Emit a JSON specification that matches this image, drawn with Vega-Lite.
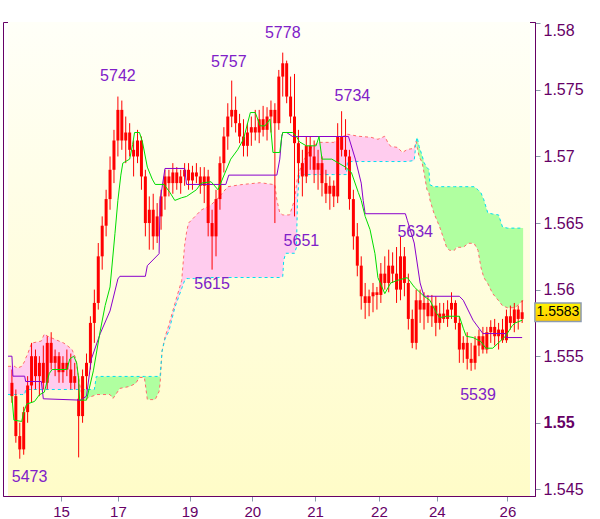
{
"$schema": "https://vega.github.io/schema/vega-lite/v6.json",
"width": 532, "height": 474,
"autosize": {"type": "none"},
"padding": {"left": 3, "top": 22, "right": 65, "bottom": 23},
"config": {"view": {"stroke": "#660066", "strokeWidth": 1}},
"datasets": {
"bars": [
{"i":0,"o":1.5530,"h":1.5540,"l":1.5515,"c":1.5520},
{"i":1,"o":1.5520,"h":1.5525,"l":1.5485,"c":1.5490},
{"i":2,"o":1.5490,"h":1.5500,"l":1.5473,"c":1.5480},
{"i":3,"o":1.5480,"h":1.5512,"l":1.5476,"c":1.5508},
{"i":4,"o":1.5508,"h":1.5535,"l":1.5500,"c":1.5528},
{"i":5,"o":1.5528,"h":1.5560,"l":1.5515,"c":1.5550},
{"i":6,"o":1.5550,"h":1.5555,"l":1.5525,"c":1.5535},
{"i":7,"o":1.5535,"h":1.5550,"l":1.5520,"c":1.5545},
{"i":8,"o":1.5545,"h":1.5558,"l":1.5525,"c":1.5530},
{"i":9,"o":1.5530,"h":1.5565,"l":1.5525,"c":1.5560},
{"i":10,"o":1.5560,"h":1.5568,"l":1.5540,"c":1.5545},
{"i":11,"o":1.5545,"h":1.5555,"l":1.5535,"c":1.5550},
{"i":12,"o":1.5550,"h":1.5553,"l":1.5530,"c":1.5538},
{"i":13,"o":1.5538,"h":1.5550,"l":1.5530,"c":1.5545},
{"i":14,"o":1.5545,"h":1.5555,"l":1.5535,"c":1.5540},
{"i":15,"o":1.5540,"h":1.5552,"l":1.5525,"c":1.5530},
{"i":16,"o":1.5530,"h":1.5545,"l":1.5525,"c":1.5535},
{"i":17,"o":1.5518,"h":1.5535,"l":1.5474,"c":1.5505},
{"i":18,"o":1.5505,"h":1.5540,"l":1.5500,"c":1.5535},
{"i":19,"o":1.5535,"h":1.5552,"l":1.5525,"c":1.5545},
{"i":20,"o":1.5545,"h":1.5580,"l":1.5540,"c":1.5575},
{"i":21,"o":1.5575,"h":1.5600,"l":1.5560,"c":1.5590},
{"i":22,"o":1.5590,"h":1.5635,"l":1.5585,"c":1.5625},
{"i":23,"o":1.5625,"h":1.5655,"l":1.5615,"c":1.5648},
{"i":24,"o":1.5648,"h":1.5675,"l":1.5640,"c":1.5668},
{"i":25,"o":1.5668,"h":1.5700,"l":1.5660,"c":1.5690},
{"i":26,"o":1.5690,"h":1.5720,"l":1.5680,"c":1.5712},
{"i":27,"o":1.5712,"h":1.5745,"l":1.5700,"c":1.5735},
{"i":28,"o":1.5735,"h":1.5742,"l":1.5705,"c":1.5712},
{"i":29,"o":1.5712,"h":1.5730,"l":1.5695,"c":1.5718},
{"i":30,"o":1.5718,"h":1.5725,"l":1.5700,"c":1.5705},
{"i":31,"o":1.5705,"h":1.5712,"l":1.5685,"c":1.5700},
{"i":32,"o":1.5700,"h":1.5720,"l":1.5695,"c":1.5712},
{"i":33,"o":1.5712,"h":1.5715,"l":1.5675,"c":1.5685},
{"i":34,"o":1.5685,"h":1.5690,"l":1.5640,"c":1.5650},
{"i":35,"o":1.5650,"h":1.5670,"l":1.5630,"c":1.5660},
{"i":36,"o":1.5660,"h":1.5672,"l":1.5630,"c":1.5640},
{"i":37,"o":1.5640,"h":1.5665,"l":1.5635,"c":1.5655},
{"i":38,"o":1.5655,"h":1.5675,"l":1.5645,"c":1.5670},
{"i":39,"o":1.5670,"h":1.5690,"l":1.5660,"c":1.5685},
{"i":40,"o":1.5685,"h":1.5690,"l":1.5670,"c":1.5680},
{"i":41,"o":1.5680,"h":1.5695,"l":1.5672,"c":1.5688},
{"i":42,"o":1.5688,"h":1.5692,"l":1.5675,"c":1.5680},
{"i":43,"o":1.5680,"h":1.5690,"l":1.5672,"c":1.5685},
{"i":44,"o":1.5685,"h":1.5695,"l":1.5678,"c":1.5690},
{"i":45,"o":1.5690,"h":1.5695,"l":1.5675,"c":1.5682},
{"i":46,"o":1.5682,"h":1.5693,"l":1.5675,"c":1.5688},
{"i":47,"o":1.5688,"h":1.5695,"l":1.5680,"c":1.5685},
{"i":48,"o":1.5685,"h":1.5692,"l":1.5672,"c":1.5678},
{"i":49,"o":1.5678,"h":1.5692,"l":1.5665,"c":1.5685},
{"i":50,"o":1.5685,"h":1.5690,"l":1.5640,"c":1.5650},
{"i":51,"o":1.5650,"h":1.5660,"l":1.5615,"c":1.5640},
{"i":52,"o":1.5640,"h":1.5675,"l":1.5625,"c":1.5668},
{"i":53,"o":1.5668,"h":1.5700,"l":1.5660,"c":1.5695},
{"i":54,"o":1.5695,"h":1.5722,"l":1.5688,"c":1.5715},
{"i":55,"o":1.5715,"h":1.5740,"l":1.5705,"c":1.5730},
{"i":56,"o":1.5730,"h":1.5757,"l":1.5722,"c":1.5735},
{"i":57,"o":1.5735,"h":1.5745,"l":1.5718,"c":1.5725},
{"i":58,"o":1.5725,"h":1.5732,"l":1.5710,"c":1.5715},
{"i":59,"o":1.5715,"h":1.5728,"l":1.5700,"c":1.5708},
{"i":60,"o":1.5708,"h":1.5725,"l":1.5700,"c":1.5718},
{"i":61,"o":1.5718,"h":1.5730,"l":1.5708,"c":1.5722},
{"i":62,"o":1.5722,"h":1.5735,"l":1.5712,"c":1.5718},
{"i":63,"o":1.5718,"h":1.5735,"l":1.5710,"c":1.5728},
{"i":64,"o":1.5728,"h":1.5738,"l":1.5715,"c":1.5720},
{"i":65,"o":1.5720,"h":1.5737,"l":1.5712,"c":1.5730},
{"i":66,"o":1.5730,"h":1.5742,"l":1.5718,"c":1.5735},
{"i":67,"o":1.5735,"h":1.5740,"l":1.5650,"c":1.5725},
{"i":68,"o":1.5725,"h":1.5765,"l":1.5720,"c":1.5760},
{"i":69,"o":1.5760,"h":1.5778,"l":1.5745,"c":1.5770},
{"i":70,"o":1.5770,"h":1.5772,"l":1.5740,"c":1.5745},
{"i":71,"o":1.5745,"h":1.5760,"l":1.5725,"c":1.5730},
{"i":72,"o":1.5730,"h":1.5762,"l":1.5655,"c":1.5710},
{"i":73,"o":1.5710,"h":1.5720,"l":1.5680,"c":1.5695},
{"i":74,"o":1.5695,"h":1.5705,"l":1.5670,"c":1.5685},
{"i":75,"o":1.5685,"h":1.5715,"l":1.5680,"c":1.5708},
{"i":76,"o":1.5708,"h":1.5715,"l":1.5690,"c":1.5700},
{"i":77,"o":1.5700,"h":1.5712,"l":1.5680,"c":1.5690},
{"i":78,"o":1.5690,"h":1.5705,"l":1.5675,"c":1.5695},
{"i":79,"o":1.5695,"h":1.5700,"l":1.5670,"c":1.5680},
{"i":80,"o":1.5680,"h":1.5690,"l":1.5665,"c":1.5672},
{"i":81,"o":1.5672,"h":1.5685,"l":1.5660,"c":1.5678},
{"i":82,"o":1.5678,"h":1.5682,"l":1.5662,"c":1.5670},
{"i":83,"o":1.5670,"h":1.5725,"l":1.5665,"c":1.5715},
{"i":84,"o":1.5715,"h":1.5734,"l":1.5700,"c":1.5705},
{"i":85,"o":1.5705,"h":1.5728,"l":1.5690,"c":1.5700},
{"i":86,"o":1.5700,"h":1.5705,"l":1.5660,"c":1.5668},
{"i":87,"o":1.5668,"h":1.5675,"l":1.5630,"c":1.5640},
{"i":88,"o":1.5640,"h":1.5650,"l":1.5610,"c":1.5618},
{"i":89,"o":1.5618,"h":1.5625,"l":1.5585,"c":1.5595},
{"i":90,"o":1.5595,"h":1.5605,"l":1.5578,"c":1.5590},
{"i":91,"o":1.5590,"h":1.5600,"l":1.5580,"c":1.5595},
{"i":92,"o":1.5595,"h":1.5605,"l":1.5583,"c":1.5598},
{"i":93,"o":1.5598,"h":1.5602,"l":1.5585,"c":1.5596},
{"i":94,"o":1.5596,"h":1.5620,"l":1.5590,"c":1.5612},
{"i":95,"o":1.5612,"h":1.5625,"l":1.5600,"c":1.5605},
{"i":96,"o":1.5605,"h":1.5630,"l":1.5598,"c":1.5618},
{"i":97,"o":1.5618,"h":1.5628,"l":1.5605,"c":1.5612},
{"i":98,"o":1.5612,"h":1.5632,"l":1.5590,"c":1.5600},
{"i":99,"o":1.5600,"h":1.5640,"l":1.5592,"c":1.5625},
{"i":100,"o":1.5625,"h":1.5632,"l":1.5595,"c":1.5605},
{"i":101,"o":1.5605,"h":1.5612,"l":1.5570,"c":1.5578},
{"i":102,"o":1.5578,"h":1.5585,"l":1.5556,"c":1.5560},
{"i":103,"o":1.5560,"h":1.5600,"l":1.5555,"c":1.5592},
{"i":104,"o":1.5592,"h":1.5600,"l":1.5575,"c":1.5585},
{"i":105,"o":1.5585,"h":1.5598,"l":1.5570,"c":1.5590},
{"i":106,"o":1.5590,"h":1.5596,"l":1.5575,"c":1.5580},
{"i":107,"o":1.5580,"h":1.5596,"l":1.5572,"c":1.5588},
{"i":108,"o":1.5588,"h":1.5595,"l":1.5565,"c":1.5575},
{"i":109,"o":1.5575,"h":1.5590,"l":1.5570,"c":1.5582},
{"i":110,"o":1.5582,"h":1.5590,"l":1.5575,"c":1.5578},
{"i":111,"o":1.5578,"h":1.5592,"l":1.5572,"c":1.5585},
{"i":112,"o":1.5585,"h":1.5598,"l":1.5578,"c":1.5590},
{"i":113,"o":1.5590,"h":1.5592,"l":1.5570,"c":1.5575},
{"i":114,"o":1.5575,"h":1.5580,"l":1.5545,"c":1.5555},
{"i":115,"o":1.5555,"h":1.5565,"l":1.5545,"c":1.5560},
{"i":116,"o":1.5560,"h":1.5568,"l":1.5540,"c":1.5548},
{"i":117,"o":1.5548,"h":1.5560,"l":1.5539,"c":1.5545},
{"i":118,"o":1.5545,"h":1.5565,"l":1.5540,"c":1.5558},
{"i":119,"o":1.5558,"h":1.5570,"l":1.5550,"c":1.5565},
{"i":120,"o":1.5565,"h":1.5572,"l":1.5552,"c":1.5555},
{"i":121,"o":1.5555,"h":1.5572,"l":1.5552,"c":1.5568},
{"i":122,"o":1.5568,"h":1.5577,"l":1.5560,"c":1.5572},
{"i":123,"o":1.5572,"h":1.5578,"l":1.5558,"c":1.5565},
{"i":124,"o":1.5565,"h":1.5575,"l":1.5555,"c":1.5570},
{"i":125,"o":1.5570,"h":1.5578,"l":1.5560,"c":1.5562},
{"i":126,"o":1.5562,"h":1.5585,"l":1.5560,"c":1.5580},
{"i":127,"o":1.5580,"h":1.5588,"l":1.5570,"c":1.5575},
{"i":128,"o":1.5575,"h":1.5590,"l":1.5568,"c":1.5585},
{"i":129,"o":1.5585,"h":1.5588,"l":1.5570,"c":1.5578},
{"i":130,"o":1.5578,"h":1.5592,"l":1.5575,"c":1.5583}
],
"ten": [
{"i":0,"v":1.5520},{"i":0.5,"v":1.5502},{"i":2.5,"v":1.5501},{"i":3,"v":1.5508},{"i":3.75,"v":1.5514},{"i":5.75,"v":1.5516},{"i":7,"v":1.5521},{"i":8.25,"v":1.5523},{"i":9.5,"v":1.5537},{"i":10.25,"v":1.5540},{"i":14,"v":1.5540},{"i":14.75,"v":1.5548},{"i":15.75,"v":1.5550},{"i":16.5,"v":1.5545},{"i":17,"v":1.5533},{"i":17.25,"v":1.5517},{"i":19,"v":1.5517},{"i":20.75,"v":1.5539},{"i":22.5,"v":1.5569},{"i":23.75,"v":1.5588},{"i":25,"v":1.5602},{"i":25.75,"v":1.5626},{"i":26.25,"v":1.5642},{"i":27,"v":1.5667},{"i":27.75,"v":1.5686},{"i":28.25,"v":1.5695},{"i":30,"v":1.5698},{"i":30.75,"v":1.5709},{"i":31.25,"v":1.5718},{"i":32.5,"v":1.5718},{"i":33.25,"v":1.5711},{"i":34.5,"v":1.5692},{"i":35.75,"v":1.5683},{"i":36.5,"v":1.5679},{"i":38.75,"v":1.5679},{"i":40.25,"v":1.5673},{"i":41.5,"v":1.5667},{"i":43.25,"v":1.5669},{"i":44.5,"v":1.5670},{"i":47,"v":1.5675},{"i":48.25,"v":1.5680},{"i":50.75,"v":1.5681},{"i":52.5,"v":1.5675},{"i":55.75,"v":1.5698},{"i":57.5,"v":1.5705},{"i":59,"v":1.5713},{"i":60.75,"v":1.5733},{"i":62,"v":1.5733},{"i":63.25,"v":1.5723},{"i":64.5,"v":1.5723},{"i":65.75,"v":1.5728},{"i":66.5,"v":1.5703},{"i":68.25,"v":1.5703},{"i":68.75,"v":1.5715},{"i":69,"v":1.5718},{"i":71.5,"v":1.5718},{"i":72.5,"v":1.5715},{"i":73.25,"v":1.5711},{"i":75,"v":1.5708},{"i":77.5,"v":1.5708},{"i":78.25,"v":1.5715},{"i":79,"v":1.5698},{"i":81.5,"v":1.5698},{"i":83.25,"v":1.5695},{"i":85,"v":1.5692},{"i":86.5,"v":1.5688},{"i":88.25,"v":1.5673},{"i":89,"v":1.5667},{"i":90,"v":1.5655},{"i":91.25,"v":1.5645},{"i":92.5,"v":1.5627},{"i":93.25,"v":1.5609},{"i":95,"v":1.5597},{"i":96.5,"v":1.5605},{"i":98.25,"v":1.5607},{"i":100.75,"v":1.5609},{"i":102.5,"v":1.5602},{"i":105,"v":1.5595},{"i":106.5,"v":1.5592},{"i":108.25,"v":1.5582},{"i":109,"v":1.5579},{"i":110.75,"v":1.5580},{"i":114,"v":1.5580},{"i":115,"v":1.5571},{"i":115.75,"v":1.5565},{"i":117.5,"v":1.5564},{"i":119.5,"v":1.5561},{"i":120.75,"v":1.5556},{"i":122.5,"v":1.5556},{"i":125.75,"v":1.5565},{"i":127.5,"v":1.5573},{"i":128.25,"v":1.5575},{"i":130,"v":1.5577}
],
"kij": [
{"i":-1,"v":1.5550},{"i":0,"v":1.5550},{"i":0.25,"v":1.5535},{"i":3.25,"v":1.5535},{"i":3.5,"v":1.5531},{"i":7.5,"v":1.5531},{"i":8,"v":1.5518},{"i":17.5,"v":1.5517},{"i":19,"v":1.5520},{"i":20.25,"v":1.5548},{"i":22.5,"v":1.5567},{"i":25,"v":1.5584},{"i":27,"v":1.5608},{"i":27.5,"v":1.5610},{"i":34,"v":1.5610},{"i":34.5,"v":1.5618},{"i":37.5,"v":1.5627},{"i":37.75,"v":1.5667},{"i":39,"v":1.5691},{"i":44,"v":1.5691},{"i":44.5,"v":1.5679},{"i":54.5,"v":1.5679},{"i":55.25,"v":1.5686},{"i":67.5,"v":1.5686},{"i":68.25,"v":1.5698},{"i":68.75,"v":1.5715},{"i":69,"v":1.5718},{"i":70,"v":1.5718},{"i":71.5,"v":1.5715},{"i":85.75,"v":1.5715},{"i":87.5,"v":1.5698},{"i":89,"v":1.5680},{"i":89.5,"v":1.5667},{"i":90,"v":1.5657},{"i":100.25,"v":1.5657},{"i":100.75,"v":1.5652},{"i":102.5,"v":1.5635},{"i":104,"v":1.5605},{"i":105,"v":1.5595},{"i":114,"v":1.5595},{"i":115,"v":1.5592},{"i":117.5,"v":1.5577},{"i":120,"v":1.5567},{"i":125.75,"v":1.5567},{"i":126,"v":1.5564},{"i":130,"v":1.5564}
],
"cloud": [
{"i":-1,"a":1.55424,"b":1.55212,"seg":"p1","kind":"pink"},
{"i":0.75,"a":1.55424,"b":1.55212,"seg":"p1","kind":"pink"},
{"i":1.25,"a":1.55409,"b":1.55212,"seg":"p1","kind":"pink"},
{"i":2.5,"a":1.55424,"b":1.55212,"seg":"p1","kind":"pink"},
{"i":3.25,"a":1.55462,"b":1.55212,"seg":"p1","kind":"pink"},
{"i":3.5,"a":1.55485,"b":1.5525,"seg":"p1","kind":"pink"},
{"i":4,"a":1.55515,"b":1.5525,"seg":"p1","kind":"pink"},
{"i":5,"a":1.55598,"b":1.5525,"seg":"p1","kind":"pink"},
{"i":7.5,"a":1.55614,"b":1.5525,"seg":"p1","kind":"pink"},
{"i":8.25,"a":1.55667,"b":1.5525,"seg":"p1","kind":"pink"},
{"i":9,"a":1.55652,"b":1.5525,"seg":"p1","kind":"pink"},
{"i":10.75,"a":1.55629,"b":1.5525,"seg":"p1","kind":"pink"},
{"i":13.25,"a":1.55598,"b":1.5525,"seg":"p1","kind":"pink"},
{"i":15.25,"a":1.55553,"b":1.5525,"seg":"p1","kind":"pink"},
{"i":16.25,"a":1.55485,"b":1.5525,"seg":"p1","kind":"pink"},
{"i":17,"a":1.55333,"b":1.5525,"seg":"p1","kind":"pink"},
{"i":17.5,"a":1.5525,"b":1.5525,"seg":"p1","kind":"pink"},
{"i":17.5,"a":1.5525,"b":1.5525,"seg":"g1","kind":"green"},
{"i":18.25,"a":1.55174,"b":1.5525,"seg":"g1","kind":"green"},
{"i":20.25,"a":1.55197,"b":1.5525,"seg":"g1","kind":"green"},
{"i":21,"a":1.55205,"b":1.5525,"seg":"g1","kind":"green"},
{"i":21.5,"a":1.55212,"b":1.55348,"seg":"g1","kind":"green"},
{"i":25,"a":1.55212,"b":1.55348,"seg":"g1","kind":"green"},
{"i":25.75,"a":1.55182,"b":1.55348,"seg":"g1","kind":"green"},
{"i":27.5,"a":1.55258,"b":1.55348,"seg":"g1","kind":"green"},
{"i":30,"a":1.55273,"b":1.55348,"seg":"g1","kind":"green"},
{"i":31.5,"a":1.55295,"b":1.55348,"seg":"g1","kind":"green"},
{"i":32.5,"a":1.5534,"b":1.55348,"seg":"g1","kind":"green"},
{"i":33.75,"a":1.5534,"b":1.55348,"seg":"g1","kind":"green"},
{"i":34,"a":1.55288,"b":1.55348,"seg":"g1","kind":"green"},
{"i":34.5,"a":1.55174,"b":1.55348,"seg":"g1","kind":"green"},
{"i":36.5,"a":1.55174,"b":1.55348,"seg":"g1","kind":"green"},
{"i":37.5,"a":1.55235,"b":1.55348,"seg":"g1","kind":"green"},
{"i":37.75,"a":1.55295,"b":1.55348,"seg":"g1","kind":"green"},
{"i":38.25,"a":1.55538,"b":1.55538,"seg":"g1","kind":"green"},
{"i":38.25,"a":1.55538,"b":1.55538,"seg":"p2","kind":"pink"},
{"i":39,"a":1.55644,"b":1.55629,"seg":"p2","kind":"pink"},
{"i":40,"a":1.55735,"b":1.55689,"seg":"p2","kind":"pink"},
{"i":41.5,"a":1.55894,"b":1.55864,"seg":"p2","kind":"pink"},
{"i":43.25,"a":1.56068,"b":1.56008,"seg":"p2","kind":"pink"},
{"i":44,"a":1.56333,"b":1.56068,"seg":"p2","kind":"pink"},
{"i":44.5,"a":1.56432,"b":1.56083,"seg":"p2","kind":"pink"},
{"i":45,"a":1.565,"b":1.56083,"seg":"p2","kind":"pink"},
{"i":46.5,"a":1.56545,"b":1.56083,"seg":"p2","kind":"pink"},
{"i":48.25,"a":1.56598,"b":1.56083,"seg":"p2","kind":"pink"},
{"i":50.75,"a":1.56636,"b":1.56091,"seg":"p2","kind":"pink"},
{"i":53.25,"a":1.56712,"b":1.56091,"seg":"p2","kind":"pink"},
{"i":55,"a":1.56773,"b":1.56091,"seg":"p2","kind":"pink"},
{"i":58.25,"a":1.56788,"b":1.56091,"seg":"p2","kind":"pink"},
{"i":63.25,"a":1.56803,"b":1.56091,"seg":"p2","kind":"pink"},
{"i":67,"a":1.56788,"b":1.56091,"seg":"p2","kind":"pink"},
{"i":67.5,"a":1.56674,"b":1.56091,"seg":"p2","kind":"pink"},
{"i":68.25,"a":1.56576,"b":1.56091,"seg":"p2","kind":"pink"},
{"i":69,"a":1.56561,"b":1.56098,"seg":"p2","kind":"pink"},
{"i":69.25,"a":1.56561,"b":1.5622,"seg":"p2","kind":"pink"},
{"i":69.75,"a":1.56561,"b":1.56273,"seg":"p2","kind":"pink"},
{"i":70.75,"a":1.56561,"b":1.56273,"seg":"p2","kind":"pink"},
{"i":72,"a":1.56674,"b":1.56273,"seg":"p2","kind":"pink"},
{"i":72.5,"a":1.56788,"b":1.56318,"seg":"p2","kind":"pink"},
{"i":72.75,"a":1.56841,"b":1.56674,"seg":"p2","kind":"pink"},
{"i":73.25,"a":1.56886,"b":1.56864,"seg":"p2","kind":"pink"},
{"i":74,"a":1.56955,"b":1.56864,"seg":"p2","kind":"pink"},
{"i":76.5,"a":1.57076,"b":1.56864,"seg":"p2","kind":"pink"},
{"i":78.25,"a":1.57106,"b":1.56864,"seg":"p2","kind":"pink"},
{"i":82,"a":1.57106,"b":1.56864,"seg":"p2","kind":"pink"},
{"i":83.25,"a":1.57129,"b":1.56864,"seg":"p2","kind":"pink"},
{"i":85.25,"a":1.57167,"b":1.56864,"seg":"p2","kind":"pink"},
{"i":85.5,"a":1.57167,"b":1.56962,"seg":"p2","kind":"pink"},
{"i":88.25,"a":1.57152,"b":1.56962,"seg":"p2","kind":"pink"},
{"i":91.5,"a":1.57144,"b":1.56962,"seg":"p2","kind":"pink"},
{"i":93.25,"a":1.57129,"b":1.56962,"seg":"p2","kind":"pink"},
{"i":95,"a":1.57152,"b":1.56962,"seg":"p2","kind":"pink"},
{"i":95.75,"a":1.57106,"b":1.56962,"seg":"p2","kind":"pink"},
{"i":96.5,"a":1.57076,"b":1.56962,"seg":"p2","kind":"pink"},
{"i":98.25,"a":1.57068,"b":1.56962,"seg":"p2","kind":"pink"},
{"i":99.5,"a":1.5703,"b":1.56962,"seg":"p2","kind":"pink"},
{"i":100.75,"a":1.57053,"b":1.56962,"seg":"p2","kind":"pink"},
{"i":102.5,"a":1.57061,"b":1.5697,"seg":"p2","kind":"pink"},
{"i":103,"a":1.57114,"b":1.57114,"seg":"p2","kind":"pink"},
{"i":103,"a":1.57114,"b":1.57114,"seg":"g2","kind":"green"},
{"i":103.25,"a":1.57068,"b":1.57144,"seg":"g2","kind":"green"},
{"i":103.75,"a":1.57,"b":1.57076,"seg":"g2","kind":"green"},
{"i":104.5,"a":1.56955,"b":1.57008,"seg":"g2","kind":"green"},
{"i":105,"a":1.56879,"b":1.56955,"seg":"g2","kind":"green"},
{"i":105.75,"a":1.5675,"b":1.56917,"seg":"g2","kind":"green"},
{"i":106.25,"a":1.56727,"b":1.56902,"seg":"g2","kind":"green"},
{"i":106.5,"a":1.56674,"b":1.56788,"seg":"g2","kind":"green"},
{"i":107.5,"a":1.56576,"b":1.56773,"seg":"g2","kind":"green"},
{"i":109,"a":1.5647,"b":1.56773,"seg":"g2","kind":"green"},
{"i":110.75,"a":1.56318,"b":1.56773,"seg":"g2","kind":"green"},
{"i":111.5,"a":1.56295,"b":1.56773,"seg":"g2","kind":"green"},
{"i":112.75,"a":1.56295,"b":1.56773,"seg":"g2","kind":"green"},
{"i":113.25,"a":1.56318,"b":1.56773,"seg":"g2","kind":"green"},
{"i":115,"a":1.56318,"b":1.56773,"seg":"g2","kind":"green"},
{"i":116.25,"a":1.56348,"b":1.56773,"seg":"g2","kind":"green"},
{"i":117.75,"a":1.56348,"b":1.56773,"seg":"g2","kind":"green"},
{"i":118.75,"a":1.56295,"b":1.5675,"seg":"g2","kind":"green"},
{"i":119.5,"a":1.56167,"b":1.56727,"seg":"g2","kind":"green"},
{"i":120.25,"a":1.5609,"b":1.56674,"seg":"g2","kind":"green"},
{"i":121.25,"a":1.56045,"b":1.56576,"seg":"g2","kind":"green"},
{"i":122.5,"a":1.5597,"b":1.56568,"seg":"g2","kind":"green"},
{"i":124,"a":1.55917,"b":1.56561,"seg":"g2","kind":"green"},
{"i":125,"a":1.55879,"b":1.5647,"seg":"g2","kind":"green"},
{"i":126.25,"a":1.55864,"b":1.56462,"seg":"g2","kind":"green"},
{"i":128.25,"a":1.55864,"b":1.56462,"seg":"g2","kind":"green"},
{"i":129.5,"a":1.55902,"b":1.56462,"seg":"g2","kind":"green"},
{"i":130.25,"a":1.55917,"b":1.56462,"seg":"g2","kind":"green"}
],
"labels": [
{"i":27,"v":1.57606,"t":"5742"},
{"i":55.25,"v":1.57712,"t":"5757"},
{"i":69,"v":1.57924,"t":"5778"},
{"i":86.75,"v":1.57455,"t":"5734"},
{"i":73.75,"v":1.56364,"t":"5651"},
{"i":51,"v":1.56045,"t":"5615"},
{"i":102.75,"v":1.56432,"t":"5634"},
{"i":118.75,"v":1.55212,"t":"5539"},
{"i":4.5,"v":1.54591,"t":"5473"}
],
"tag": [{"x1":133.25,"x2":145,"y1":1.5590,"y2":1.5576,"xm":139.1,"v":1.5583,"t":"1.5583"}]
},
"layer": [
{"data": {"values": [{"x1": -1, "x2": 132, "y1": 1.5445, "y2": 1.5801}]},
 "mark": {"type": "rect", "fill": {"gradient": "linear", "x1": 0, "y1": 0, "x2": 0, "y2": 1, "stops": [{"offset": 0, "color": "#FFFFF8"}, {"offset": 1, "color": "#FFFCC8"}]}},
 "encoding": {"x": {"field": "x1", "type": "quantitative", "title": null, "scale": {"domain": [-1, 132], "nice": false, "zero": false},
   "axis": {"title": null, "values": [12.5, 27, 45.25, 61.25, 77.25, 93.5, 108.25, 126.25],
    "labelExpr": "datum.value < 20 ? '15' : datum.value < 35 ? '17' : datum.value < 50 ? '19' : datum.value < 70 ? '20' : datum.value < 85 ? '21' : datum.value < 100 ? '22' : datum.value < 115 ? '24' : '26'",
    "grid": false, "tickColor": "#8899AA", "tickSize": 5, "labelColor": "#660066", "labelFont": "Liberation Sans", "labelFontSize": 15, "domainColor": "#660066", "labelPadding": 3}},
  "x2": {"field": "x2"},
  "y": {"field": "y1", "type": "quantitative", "title": null, "scale": {"domain": [1.5445, 1.5801], "nice": false, "zero": false},
   "axis": {"orient": "right", "title": null, "values": [1.545, 1.55, 1.555, 1.56, 1.565, 1.57, 1.575, 1.58], "format": ".3~f", "grid": false,
    "tickColor": "#8899AA", "tickSize": 5, "labelColor": "#660066", "labelFont": "Liberation Sans", "labelFontSize": 16, "labelPadding": 3, "domainColor": "#660066",
    "labelFontWeight": {"condition": {"test": "abs(datum.value - 1.55) < 0.0001", "value": "bold"}, "value": "normal"},
    "labelOffset": {"condition": {"test": "datum.value > 1.5799", "value": 7}, "value": 0}}},
  "y2": {"field": "y2"}}},
{"data": {"name": "cloud"},
 "mark": {"type": "area", "interpolate": "linear"},
 "encoding": {
  "x": {"field": "i", "type": "quantitative", "title": null},
  "y": {"field": "a", "type": "quantitative", "title": null, "stack": null},
  "y2": {"field": "b"},
  "detail": {"field": "seg"},
  "color": {"field": "kind", "type": "nominal", "scale": {"domain": ["pink", "green"], "range": ["#FFCCEE", "#B0FFA0"]}, "legend": null}}},
{"data": {"name": "cloud"},
 "mark": {"type": "line", "color": "#FF6A6A", "strokeWidth": 1, "strokeDash": [3, 3]},
 "encoding": {"x": {"field": "i", "type": "quantitative", "title": null},
  "y": {"field": "a", "type": "quantitative", "title": null}}},
{"data": {"name": "cloud"},
 "mark": {"type": "line", "color": "#00E0F0", "strokeWidth": 1, "strokeDash": [3, 3]},
 "encoding": {"x": {"field": "i", "type": "quantitative", "title": null},
  "y": {"field": "b", "type": "quantitative", "title": null}}},
{"data": {"name": "bars"},
 "mark": {"type": "rule", "color": "#FF0000", "strokeWidth": 1},
 "encoding": {"x": {"field": "i", "type": "quantitative", "title": null},
  "y": {"field": "l", "type": "quantitative", "title": null},
  "y2": {"field": "h"}}},
{"data": {"name": "bars"},
 "mark": {"type": "bar", "color": "#FF0000", "size": 3},
 "encoding": {"x": {"field": "i", "type": "quantitative", "title": null},
  "y": {"field": "o", "type": "quantitative", "title": null},
  "y2": {"field": "c"}}},
{"data": {"name": "kij"},
 "mark": {"type": "line", "color": "#8A00CC", "strokeWidth": 1},
 "encoding": {"x": {"field": "i", "type": "quantitative", "title": null},
  "y": {"field": "v", "type": "quantitative", "title": null}}},
{"data": {"name": "ten"},
 "mark": {"type": "line", "color": "#00DD00", "strokeWidth": 1},
 "encoding": {"x": {"field": "i", "type": "quantitative", "title": null},
  "y": {"field": "v", "type": "quantitative", "title": null}}},
{"data": {"name": "labels"},
 "mark": {"type": "text", "color": "#8020C8", "fontSize": 16, "font": "Liberation Sans", "align": "center", "baseline": "middle"},
 "encoding": {"x": {"field": "i", "type": "quantitative", "title": null},
  "y": {"field": "v", "type": "quantitative", "title": null},
  "text": {"field": "t"}}},
{"data": {"name": "tag"},
 "mark": {"type": "rect", "stroke": "#8C9BB0", "strokeWidth": 1.5, "fill": {"gradient": "linear", "x1": 0, "y1": 0, "x2": 0, "y2": 1, "stops": [{"offset": 0, "color": "#FFF400"}, {"offset": 1, "color": "#FFC800"}]}},
 "encoding": {"x": {"field": "x1", "type": "quantitative", "title": null},
  "x2": {"field": "x2"},
  "y": {"field": "y1", "type": "quantitative", "title": null},
  "y2": {"field": "y2"}}},
{"data": {"name": "tag"},
 "mark": {"type": "text", "color": "#000000", "fontSize": 14, "font": "Liberation Sans", "align": "center", "baseline": "middle"},
 "encoding": {"x": {"field": "xm", "type": "quantitative", "title": null},
  "y": {"field": "v", "type": "quantitative", "title": null},
  "text": {"field": "t"}}}
]
}
